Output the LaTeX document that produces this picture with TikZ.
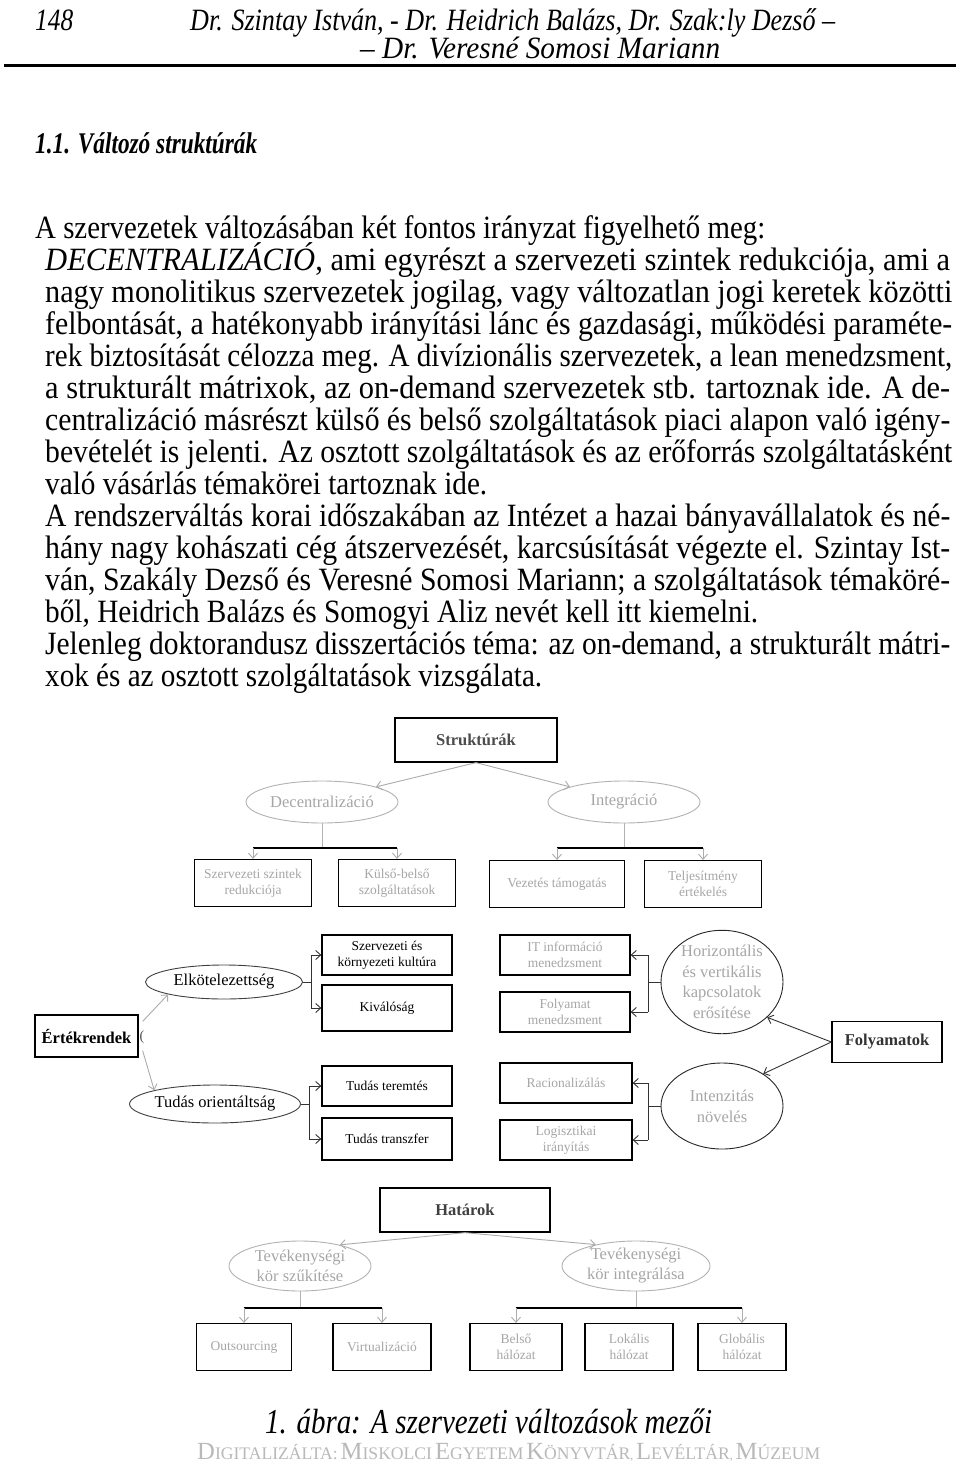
\documentclass[tikz,border=0pt]{standalone}
\usepackage{fontspec}
\setmainfont{Liberation Serif}
\usepackage{graphicx}
\usetikzlibrary{shapes.geometric,arrows.meta}
\newcommand\fitline[2]{\resizebox{#1pt}{44pt}{\rule{0pt}{44pt}#2}}
\newcommand\fsc[2]{{\fontsize{21}{24}\selectfont #1}{\fontsize{15}{18}\selectfont #2}}
\begin{document}
\begin{tikzpicture}[x=1pt,y=-1pt,
 bx/.style={draw=black, line width=1.3pt, rectangle, inner sep=2pt, align=center},
 el/.style={ellipse, draw=gray!60, line width=0.9pt, inner sep=0pt, align=center},
 ar/.style={draw=gray!65, line width=0.9pt, -{Straight Barb[length=5pt,width=9pt]}},
 dar/.style={draw=gray!40!black, line width=0.9pt, -{Straight Barb[length=5pt,width=9pt]}},
 bar/.style={draw=black, line width=1.6pt},
 stem/.style={draw=gray!60, line width=0.9pt},
 dstem/.style={draw=gray!40!black, line width=0.9pt},
 txt/.style={anchor=base west, inner sep=0pt, font=\fontsize{32.5}{34}\selectfont},
 hdr/.style={anchor=base west, inner sep=0pt, font=\fontsize{31}{34}\selectfont\itshape},
 lt/.style={text=gray!70, font=\fontsize{13.5}{16}\selectfont},
 mt/.style={text=gray!70, font=\fontsize{16.5}{20}\selectfont},
 dt/.style={text=black, font=\fontsize{13.5}{16}\selectfont},
 bt/.style={font=\fontsize{16.5}{19}\selectfont\bfseries}
]
\useasboundingbox (0,0) rectangle (960,1466);
\fill[white] (0,0) rectangle (960,1466);

% header
\node[hdr] (pg) at (35,31) {\fitline{38}{148}};
\node[hdr] (h1) at (190,31) {\fitline{645}{Dr. Szintay István, - Dr. Heidrich Balázs, Dr. Szak:ly Dezső –}};
\node[hdr] (h2) at (360,59) {\fitline{360}{– Dr. Veresné Somosi Mariann}};
\draw[line width=3pt] (4,66) -- (956,66);

% heading
\node[anchor=base west, inner sep=0pt, font=\fontsize{30}{32}\selectfont\bfseries\itshape] (hd) at (35,154) {\fitline{222}{1.1. Változó struktúrák}};

% body text
\node[txt] (l1) at (35,238) {\fitline{730}{A szervezetek változásában két fontos irányzat figyelhető meg:}};
\node[txt] (l2) at (45,270) {\fitline{905}{{\itshape DECENTRALIZÁCIÓ}, ami egyrészt a szervezeti szintek redukciója, ami a}};
\node[txt] (l3) at (45,302) {\fitline{907}{nagy monolitikus szervezetek jogilag, vagy változatlan jogi keretek közötti}};
\node[txt] (l4) at (45,334) {\fitline{907}{felbontását, a hatékonyabb irányítási lánc és gazdasági, működési paraméte-}};
\node[txt] (l5) at (45,366) {\fitline{907}{rek biztosítását célozza meg. A divízionális szervezetek, a lean menedzsment,}};
\node[txt] (l6) at (45,398) {\fitline{905}{a strukturált mátrixok, az on-demand szervezetek stb. tartoznak ide. A de-}};
\node[txt] (l7) at (45,430) {\fitline{905}{centralizáció másrészt külső és belső szolgáltatások piaci alapon való igény-}};
\node[txt] (l8) at (45,462) {\fitline{907}{bevételét is jelenti. Az osztott szolgáltatások és az erőforrás szolgáltatásként}};
\node[txt] (l9) at (45,494) {\fitline{442}{való vásárlás témakörei tartoznak ide.}};
\node[txt] (l10) at (45,526) {\fitline{905}{A rendszerváltás korai időszakában az Intézet a hazai bányavállalatok és né-}};
\node[txt] (l11) at (45,558) {\fitline{905}{hány nagy kohászati cég átszervezését, karcsúsítását végezte el. Szintay Ist-}};
\node[txt] (l12) at (45,590) {\fitline{905}{ván, Szakály Dezső és Veresné Somosi Mariann; a szolgáltatások témaköré-}};
\node[txt] (l13) at (45,622) {\fitline{713}{ből, Heidrich Balázs és Somogyi Aliz nevét kell itt kiemelni.}};
\node[txt] (l14) at (45,654) {\fitline{905}{Jelenleg doktorandusz disszertációs téma: az on-demand, a strukturált mátri-}};
\node[txt] (l15) at (45,686) {\fitline{497}{xok és az osztott szolgáltatások vizsgálata.}};

% ===== diagram 1: Struktúrák
\node[bx, minimum width=162pt, minimum height=44pt, bt, text=gray!60!black] (S) at (476,740) {Struktúrák};
\node[el, minimum width=152pt, minimum height=42pt, mt] (D) at (322,802) {Decentralizáció};
\node[el, minimum width=152pt, minimum height=42pt, mt] (I) at (624,802) {Integráció};
\node[bx, minimum width=117pt, minimum height=47pt, lt] (A1) at (253,883) {Szervezeti szintek\\redukciója};
\node[bx, minimum width=117pt, minimum height=47pt, lt] (A2) at (397,883) {Külső-belső\\szolgáltatások};
\node[bx, minimum width=135pt, minimum height=47pt, lt] (A3) at (557,884) {Vezetés támogatás};
\node[bx, minimum width=117pt, minimum height=47pt, lt] (A4) at (703,884) {Teljesítmény\\értékelés};
\draw[ar] (S.south) -- (D.north east);
\draw[ar] (S.south) -- (I.north west);
\coordinate (d0) at (322,848);
\coordinate (d1) at (253,848);
\coordinate (d2) at (397,848);
\coordinate (i0) at (624,848);
\coordinate (i1) at (557,848);
\coordinate (i2) at (703,848);
\draw[stem] (D.south) -- (d0);
\draw[stem] (I.south) -- (i0);
\draw[bar] (d1) -- (d2);
\draw[bar] (i1) -- (i2);
\draw[ar] (d1) -- (A1.north);
\draw[ar] (d2) -- (A2.north);
\draw[ar] (i1) -- (A3.north);
\draw[ar] (i2) -- (A4.north);

% ===== diagram 2: Értékrendek
\node[bx, minimum width=103pt, minimum height=42pt, bt] (E) at (86.5,1036) {Értékrendek};
\node[inner sep=0pt, text=gray!60!black, font=\fontsize{14}{14}\selectfont] (par) at (142,1037) {(};
\node[el, draw=gray!50!black, minimum width=157pt, minimum height=34pt, font=\fontsize{16.5}{19}\selectfont] (Ek) at (224,982) {Elkötelezettség};
\node[el, draw=gray!50!black, minimum width=156pt, minimum height=38pt, font=\fontsize{16.5}{19}\selectfont] (T) at (215,1104) {Tudás orientáltság};
\node[bx, minimum width=130pt, minimum height=40pt, dt] (K1) at (387,955) {Szervezeti és\\környezeti kultúra};
\node[bx, minimum width=130pt, minimum height=46pt, dt] (K2) at (387,1008) {Kiválóság};
\node[bx, minimum width=130pt, minimum height=40pt, dt] (K3) at (387,1086) {Tudás teremtés};
\node[bx, minimum width=130pt, minimum height=42pt, dt] (K4) at (387,1139) {Tudás transzfer};
\draw[ar] ([shift={(4,7)}]E.north east) -- (Ek.south west);
\draw[ar] ([shift={(4,-7)}]E.south east) -- (T.north west);
\coordinate (e0) at (311,982);
\coordinate (e1) at (311,955);
\coordinate (e2) at (311,1008);
\coordinate (t0) at (309,1104);
\coordinate (t1) at (309,1086);
\coordinate (t2) at (309,1139);
\draw[dstem] (Ek.east) -- (e0);
\draw[dstem] (e1) -- (e2);
\draw[dar] (e1) -- (K1.west);
\draw[dar] (e2) -- (K2.west);
\draw[dstem] (T.east) -- (t0);
\draw[dstem] (t1) -- (t2);
\draw[dar] (t1) -- (K3.west);
\draw[dar] (t2) -- (K4.west);

% ===== diagram 3: Folyamatok
\node[bx, minimum width=130pt, minimum height=40pt, lt] (R1) at (565,955) {IT információ\\menedzsment};
\node[bx, minimum width=130pt, minimum height=40pt, lt] (R2) at (565,1012) {Folyamat\\menedzsment};
\node[bx, minimum width=132pt, minimum height=40pt, lt] (R3) at (566,1083) {Racionalizálás};
\node[bx, minimum width=132pt, minimum height=40pt, lt] (R4) at (566,1140) {Logisztikai\\irányítás};
\node[el, draw=gray!30!black, minimum width=122pt, minimum height=84pt, text=gray!70, font=\fontsize{16.5}{20.5}\selectfont] (H) at (722,982) {Horizontális\\és vertikális\\kapcsolatok\\erősítése};
\node[el, draw=gray!30!black, minimum width=122pt, minimum height=86pt, text=gray!70, font=\fontsize{16.5}{21}\selectfont] (N) at (722,1106) {Intenzitás\\növelés};
\node[bx, minimum width=110pt, minimum height=41pt, bt, text=gray!40!black] (F) at (887,1042) {Folyamatok};
\draw[dar] (F.west) -- (H.-38);
\draw[dar] (F.west) -- (N.38);
\coordinate (h0) at (648,982);
\coordinate (h1) at (648,955);
\coordinate (h2) at (648,1012);
\coordinate (n0) at (648,1106);
\coordinate (n1) at (648,1083);
\coordinate (n2) at (648,1140);
\draw[dstem] (H.west) -- (h0);
\draw[dstem] (h1) -- (h2);
\draw[dar] (h1) -- (R1.east);
\draw[dar] (h2) -- (R2.east);
\draw[dstem] (N.west) -- (n0);
\draw[dstem] (n1) -- (n2);
\draw[dar] (n1) -- (R3.east);
\draw[dar] (n2) -- (R4.east);

% ===== diagram 4: Határok
\node[bx, minimum width=170pt, minimum height=44pt, bt, text=gray!50!black] (Hat) at (465,1210) {Határok};
\node[el, minimum width=142pt, minimum height=50pt, mt] (L) at (300,1266) {Tevékenységi\\kör szűkítése};
\node[el, minimum width=148pt, minimum height=50pt, mt] (Q) at (636,1266) {Tevékenységi\\kör integrálása};
\node[bx, minimum width=95pt, minimum height=47pt, lt] (O) at (244,1347) {Outsourcing};
\node[bx, minimum width=98pt, minimum height=47pt, lt] (V) at (382,1347) {Virtualizáció};
\node[bx, minimum width=92pt, minimum height=47pt, lt] (B) at (516,1347) {Belső\\hálózat};
\node[bx, minimum width=88pt, minimum height=47pt, lt] (Lo) at (629,1347) {Lokális\\hálózat};
\node[bx, minimum width=88pt, minimum height=47pt, lt] (G) at (742,1347) {Globális\\hálózat};
\draw[ar] (Hat.south) -- (L.28);
\draw[ar] (Hat.south) -- (Q.152);
\coordinate (p0) at (300,1308);
\coordinate (p1) at (244,1308);
\coordinate (p2) at (382,1308);
\coordinate (q0) at (636,1308);
\coordinate (q1) at (516,1308);
\coordinate (q2) at (742,1308);
\draw[stem] (L.south) -- (p0);
\draw[stem] (Q.south) -- (q0);
\draw[bar] (p1) -- (p2);
\draw[bar] (q1) -- (q2);
\draw[ar] (p1) -- (O.north);
\draw[ar] (p2) -- (V.north);
\draw[ar] (q1) -- (B.north);
\draw[ar] (q2) -- (G.north);

% caption and footer
\node[anchor=base west, inner sep=0pt, font=\fontsize{35}{38}\selectfont\itshape] (cap) at (265,1433) {\fitline{447}{1. ábra: A szervezeti változások mezői}};
\node[anchor=base west, inner sep=0pt, text=gray!55] (ft) at (197,1459) {\resizebox{623pt}{!}{\fsc{D}{IGITALIZÁLTA:} \fsc{M}{ISKOLCI} \fsc{E}{GYETEM} \fsc{K}{ÖNYVTÁR}, \fsc{L}{EVÉLTÁR}, \fsc{M}{ÚZEUM}}};
\end{tikzpicture}
\end{document}
